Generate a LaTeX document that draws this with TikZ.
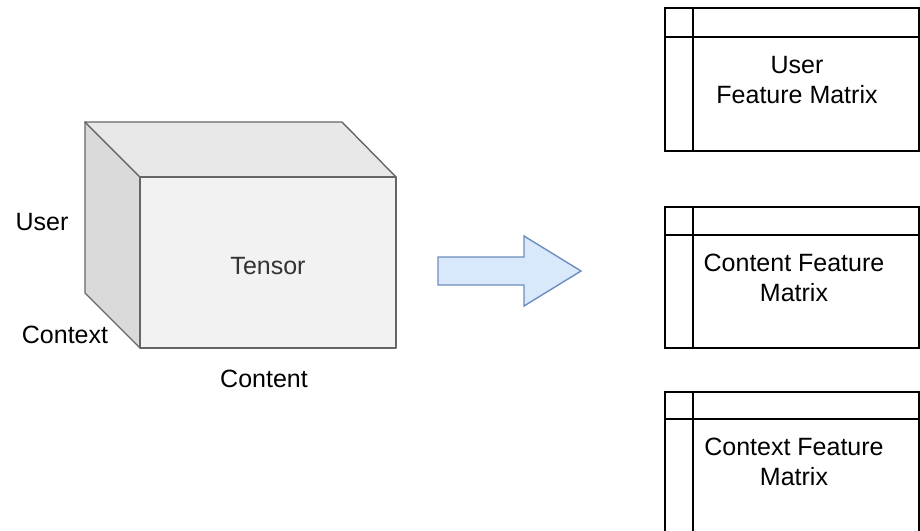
\documentclass[tikz,border=0pt]{standalone}
\usepackage{fontspec}
\setmainfont{Liberation Sans}
\definecolor{cubeline}{HTML}{666666}
\definecolor{cubefront}{HTML}{F2F2F2}
\definecolor{cubetop}{HTML}{E8E8E8}
\definecolor{cubeside}{HTML}{DADADA}
\definecolor{arrowfill}{HTML}{DAE8FC}
\definecolor{arrowline}{HTML}{6C8EBF}
\definecolor{tensortext}{HTML}{333333}
\tikzset{
  lbl/.style={font=\fontsize{25}{30}\selectfont, text=black, inner sep=0pt, align=center},
  matbox/.style={draw=black, line width=1.4pt},
  cubeface/.style={draw=cubeline, line width=1.4pt, line join=round},
}
\begin{document}
\begin{tikzpicture}[x=1pt,y=-1pt]
\useasboundingbox (0,0) rectangle (920,530);
\clip (0,0) rectangle (920,530);
% cube
\draw[cubeface, fill=cubeside] (85,122) -- (140,177) -- (140,348) -- (85,293) -- cycle;
\draw[cubeface, fill=cubetop] (85,122) -- (342,122) -- (396,177) -- (140,177) -- cycle;
\draw[cubeface, fill=cubefront] (140,177) rectangle (396,348);
\node[lbl, text=tensortext] (tensor) at (268,266) {Tensor};
\node[lbl] (user) at (42,222) {User};
\node[lbl] (context) at (65,335) {Context};
\node[lbl] (content) at (264,379) {Content};
% arrow
\draw[draw=arrowline, fill=arrowfill, line width=1.4pt, line join=miter]
  (438,257) -- (524,257) -- (524,236) -- (581,271) -- (524,306) -- (524,285) -- (438,285) -- cycle;
% matrices
\draw[matbox] (665,8) rectangle (919,151);
\draw[matbox] (693,8) -- (693,151);
\draw[matbox] (665,37) -- (919,37);
\node[lbl] (umat) at (797,80) {User\\Feature Matrix};

\draw[matbox] (665,207) rectangle (919,348);
\draw[matbox] (693,207) -- (693,348);
\draw[matbox] (665,235) -- (919,235);
\node[lbl] (cmat) at (794,278) {Content Feature\\Matrix};

\draw[matbox] (665,392) rectangle (919,545);
\draw[matbox] (693,392) -- (693,545);
\draw[matbox] (665,419) -- (919,419);
\node[lbl] (xmat) at (794,462) {Context Feature\\Matrix};
\end{tikzpicture}
\end{document}
